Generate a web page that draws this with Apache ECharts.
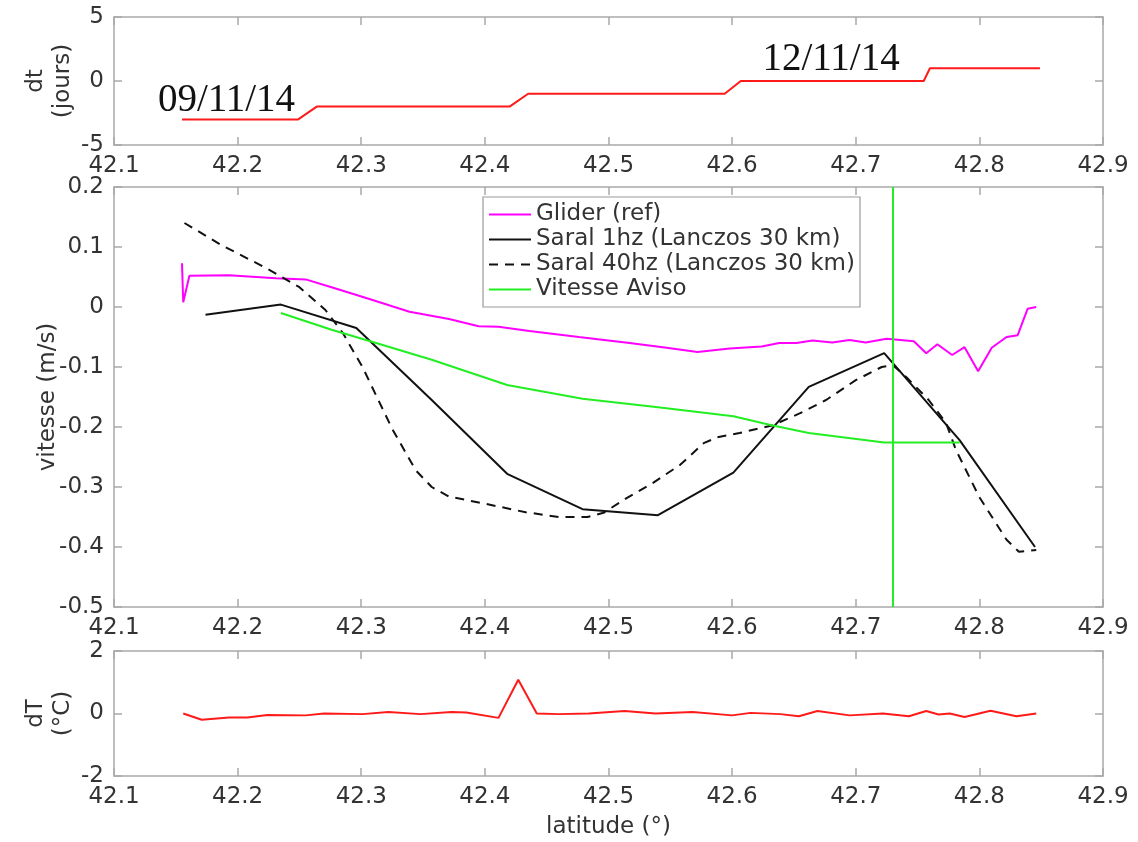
<!DOCTYPE html>
<html>
<head>
<meta charset="utf-8">
<script src="https://cdn.jsdelivr.net/npm/echarts@6/dist/echarts.min.js"></script>
<style>
html,body{margin:0;padding:0;background:#fff;}
#chart{width:1138px;height:842px;}
</style>
</head>
<body>
<div id="chart"></div>
<script>
// ---- data ----
const latTicks = [42.1, 42.2, 42.3, 42.4, 42.5, 42.6, 42.7, 42.8, 42.9];

const dtLat = [42.155, 42.249, 42.264, 42.42, 42.435, 42.594, 42.607, 42.755, 42.760, 42.849];
const dtVal = [-3, -3, -2, -2, -1, -1, 0, 0, 1, 1];
const dateLabels = ['09/11/14', '12/11/14'];
const dateLabelLat = [42.191, 42.68];
const dateLabelVal = [-1.56, 1.64];

const gliderLat = [42.155, 42.156, 42.161, 42.193, 42.231, 42.255, 42.276, 42.304, 42.339, 42.371, 42.395, 42.411, 42.436, 42.476, 42.517, 42.547, 42.572, 42.598, 42.624, 42.638, 42.652, 42.665, 42.681, 42.695, 42.708, 42.725, 42.747, 42.757, 42.766, 42.778, 42.788, 42.799, 42.810, 42.822, 42.831, 42.839, 42.846];
const gliderVal = [0.073, 0.008, 0.052, 0.053, 0.048, 0.046, 0.033, 0.015, -0.008, -0.02, -0.032, -0.033, -0.04, -0.05, -0.06, -0.068, -0.075, -0.069, -0.066, -0.06, -0.06, -0.056, -0.059, -0.055, -0.059, -0.053, -0.057, -0.077, -0.062, -0.08, -0.067, -0.107, -0.068, -0.05, -0.047, -0.003, 0];

const saral1Lat = [42.174, 42.235, 42.296, 42.357, 42.418, 42.479, 42.540, 42.601, 42.662, 42.723, 42.784, 42.845];
const saral1Val = [-0.013, 0.004, -0.035, -0.155, -0.278, -0.337, -0.347, -0.276, -0.133, -0.077, -0.222, -0.400];

const saral40Lat = [42.157, 42.187, 42.223, 42.250, 42.271, 42.285, 42.301, 42.325, 42.344, 42.357, 42.371, 42.398, 42.433, 42.460, 42.483, 42.496, 42.515, 42.536, 42.558, 42.577, 42.588, 42.606, 42.633, 42.655, 42.676, 42.700, 42.721, 42.730, 42.741, 42.759, 42.773, 42.781, 42.800, 42.822, 42.832, 42.846];
const saral40Val = [0.14, 0.103, 0.065, 0.033, -0.005, -0.043, -0.1, -0.203, -0.272, -0.3, -0.316, -0.327, -0.342, -0.35, -0.35, -0.343, -0.318, -0.293, -0.263, -0.227, -0.217, -0.21, -0.197, -0.177, -0.155, -0.122, -0.1, -0.097, -0.117, -0.155, -0.193, -0.238, -0.317, -0.388, -0.408, -0.405];

const avisoLat = [42.235, 42.276, 42.312, 42.357, 42.418, 42.479, 42.540, 42.601, 42.632, 42.662, 42.723, 42.784];
const avisoVal = [-0.01, -0.038, -0.06, -0.088, -0.13, -0.153, -0.167, -0.182, -0.197, -0.21, -0.226, -0.226];
const avisoVertLat = 42.73;

const dTLat = [42.156, 42.171, 42.193, 42.208, 42.224, 42.255, 42.270, 42.301, 42.322, 42.348, 42.373, 42.385, 42.411, 42.427, 42.442, 42.460, 42.484, 42.513, 42.538, 42.568, 42.600, 42.615, 42.639, 42.654, 42.669, 42.695, 42.722, 42.743, 42.757, 42.767, 42.776, 42.788, 42.809, 42.830, 42.846];
const dTVal = [0, -0.2, -0.13, -0.13, -0.05, -0.06, 0, -0.02, 0.05, -0.02, 0.05, 0.03, -0.14, 1.08, 0, -0.02, 0, 0.08, 0, 0.05, -0.06, 0.02, -0.02, -0.09, 0.08, -0.06, 0, -0.09, 0.08, -0.03, 0, -0.11, 0.09, -0.09, 0];

const seriesNames = ['Glider (ref)', 'Saral 1hz (Lanczos 30 km)', 'Saral 40hz (Lanczos 30 km)', 'Vitesse Aviso'];

// ---- helpers ----
const zip = (a, b) => a.map((x, i) => [x, b[i]]);
const FONT = 'DejaVu Sans';
const AX = '#a9a9a9';
const LBL = '#333333';

function xAxes(gi, showName) {
  const base = {
    type: 'value', gridIndex: gi, min: latTicks[0], max: latTicks[latTicks.length - 1], interval: 0.1,
    axisLine: { show: true, onZero: false, lineStyle: { color: AX, width: 1.5 } },
    axisTick: { show: true, inside: true, length: 8, lineStyle: { color: AX, width: 1.5 } },
    splitLine: { show: false }
  };
  return [
    Object.assign({}, base, {
      position: 'bottom',
      axisLabel: { show: true, color: LBL, fontFamily: FONT, fontSize: 23, margin: 10, formatter: v => v.toFixed(1) },
      name: showName ? 'latitude (°)' : '', nameLocation: 'middle', nameGap: 40, nameMoveOverlap: false,
      nameTextStyle: { color: LBL, fontFamily: FONT, fontSize: 23 }
    }),
    Object.assign({}, base, { position: 'top', axisLabel: { show: false } })
  ];
}
function yAxes(gi, min, max, interval, name, nameGap, fmt) {
  const base = {
    type: 'value', gridIndex: gi, min: min, max: max, interval: interval,
    axisLine: { show: true, onZero: false, lineStyle: { color: AX, width: 1.5 } },
    axisTick: { show: true, inside: true, length: 8, lineStyle: { color: AX, width: 1.5 } },
    splitLine: { show: false }
  };
  return [
    Object.assign({}, base, {
      position: 'left',
      axisLabel: { show: true, color: LBL, fontFamily: FONT, fontSize: 23, margin: 10, formatter: fmt },
      name: name, nameLocation: 'middle', nameGap: nameGap, nameRotate: 90, nameMoveOverlap: false,
      nameTextStyle: { color: LBL, fontFamily: FONT, fontSize: 23, lineHeight: 27, align: 'center' }
    }),
    Object.assign({}, base, { position: 'right', axisLabel: { show: false } })
  ];
}

const chart = echarts.init(document.getElementById('chart'), null, { renderer: 'canvas' });

const option = {
  animation: false,
  backgroundColor: '#ffffff',
  grid: [
    { left: 114, width: 989, top: 17, height: 128 },
    { left: 114, width: 989, top: 187, height: 420 },
    { left: 114, width: 989, top: 651, height: 125 }
  ],
  xAxis: [].concat(xAxes(0, false), xAxes(1, false), xAxes(2, true)),
  yAxis: [].concat(
    yAxes(0, -5, 5, 5, 'dt\n(jours)', 37, v => String(v)),
    yAxes(1, -0.5, 0.2, 0.1, 'vitesse (m/s)', 52, v => String(+v.toFixed(1))),
    yAxes(2, -2, 2, 2, 'dT\n(°C)', 37, v => String(v))
  ),
  legend: {
    show: true,
    data: seriesNames,
    orient: 'vertical',
    left: 483, top: 197,
    padding: [6, 5, 6, 5],
    itemGap: 2,
    itemWidth: 42, itemHeight: 14,
    backgroundColor: '#ffffff',
    borderColor: '#9a9a9a', borderWidth: 1.2,
    itemStyle: { opacity: 0 },
    textStyle: { color: LBL, fontFamily: FONT, fontSize: 23, lineHeight: 19 },
    selectedMode: false
  },
  series: [
    {
      name: 'dt', type: 'line', xAxisIndex: 0, yAxisIndex: 0,
      data: zip(dtLat, dtVal), showSymbol: false, symbol: 'none',
      lineStyle: { color: '#ff1a1a', width: 2 }, itemStyle: { color: '#ff1a1a' },
      markPoint: {
        symbol: 'circle', symbolSize: 1, itemStyle: { color: 'rgba(0,0,0,0)' },
        label: { show: true, position: 'inside', color: '#111', fontFamily: 'Liberation Serif', fontSize: 39, formatter: p => p.name },
        data: dateLabels.map((t, i) => ({ name: t, coord: [dateLabelLat[i], dateLabelVal[i]] }))
      }
    },
    {
      name: seriesNames[0], type: 'line', xAxisIndex: 2, yAxisIndex: 2,
      data: zip(gliderLat, gliderVal), showSymbol: false, symbol: 'none',
      lineStyle: { color: '#ff00ff', width: 2 }, itemStyle: { color: '#ff00ff' }
    },
    {
      name: seriesNames[1], type: 'line', xAxisIndex: 2, yAxisIndex: 2,
      data: zip(saral1Lat, saral1Val), showSymbol: false, symbol: 'none',
      lineStyle: { color: '#111111', width: 2 }, itemStyle: { color: '#111111' }
    },
    {
      name: seriesNames[2], type: 'line', xAxisIndex: 2, yAxisIndex: 2,
      data: zip(saral40Lat, saral40Val), showSymbol: false, symbol: 'none',
      lineStyle: { color: '#111111', width: 2, type: [9, 7] }, itemStyle: { color: '#111111' }
    },
    {
      name: seriesNames[3], type: 'line', xAxisIndex: 2, yAxisIndex: 2,
      data: zip(avisoLat, avisoVal), showSymbol: false, symbol: 'none',
      lineStyle: { color: '#22ee22', width: 2 }, itemStyle: { color: '#22ee22' },
      markLine: {
        silent: true, symbol: ['none', 'none'], label: { show: false },
        lineStyle: { color: '#22ee22', width: 2, type: 'solid' },
        data: [{ xAxis: avisoVertLat }]
      }
    },
    {
      name: 'dT', type: 'line', xAxisIndex: 4, yAxisIndex: 4,
      data: zip(dTLat, dTVal), showSymbol: false, symbol: 'none',
      lineStyle: { color: '#ff1a1a', width: 2 }, itemStyle: { color: '#ff1a1a' }
    }
  ]
};
chart.setOption(option);
</script>
</body>
</html>
